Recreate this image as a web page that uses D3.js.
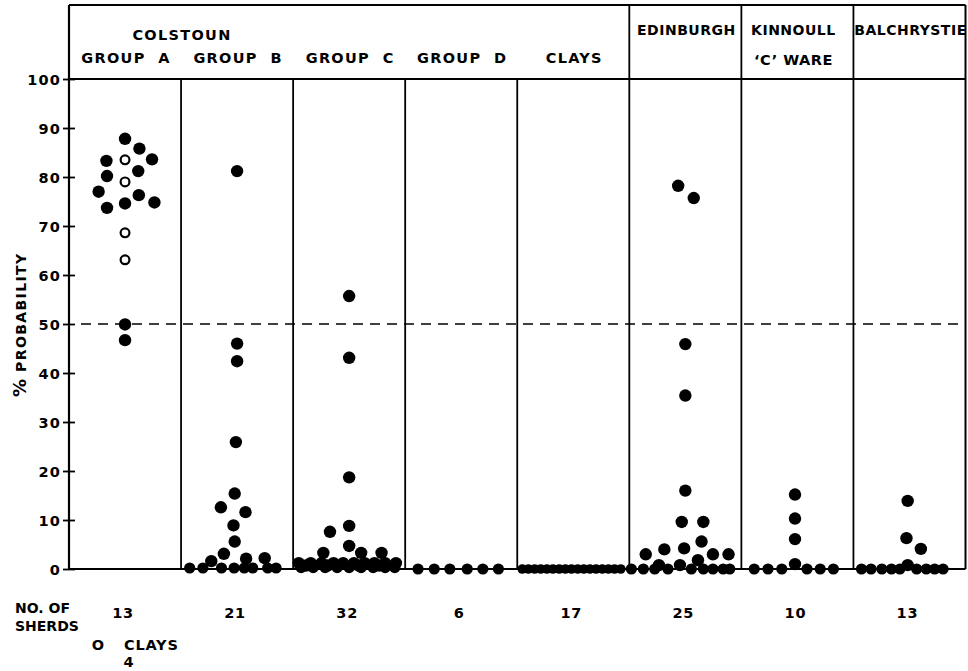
<!DOCTYPE html>
<html>
<head>
<meta charset="utf-8">
<script src="https://cdn.jsdelivr.net/npm/d3@7"></script>
<style>
  html, body { margin: 0; padding: 0; background: #fff; }
  svg { display: block; }
  text { font-family: "DejaVu Sans", "Liberation Sans", sans-serif; font-weight: bold; fill: #000; }
</style>
</head>
<body>
<svg id="chart" width="968" height="671"></svg>
<script>
// ---------------- DATA ----------------
const panels = ["GROUP A", "GROUP B", "GROUP C", "GROUP D", "CLAYS", "EDINBURGH", "KINNOULL", "BALCHRYSTIE"];
const headerLine1 = ["", "", "", "", "", "EDINBURGH", "KINNOULL", "BALCHRYSTIE"];
const headerLine2 = ["GROUP  A", "GROUP  B", "GROUP  C", "GROUP  D", "CLAYS", "", "\u2018C\u2019 WARE", ""];
const colstounTitle = "COLSTOUN";
const sherdCounts = ["13", "21", "32", "6", "17", "25", "10", "13"];
const yTicks = [0, 10, 20, 30, 40, 50, 60, 70, 80, 90, 100];
const threshold = 50;

// values (% probability) and dot-plot column (stacking slot) per point
const groupA      = [87.8, 85.8, 83.6, 83.3, 81.2, 80.2, 77.0, 76.3, 74.8, 74.6, 73.7, 49.9, 46.7];
const groupACol   = [0, 1.2, 2.25, -1.55, 1.1, -1.5, -2.2, 1.15, 2.45, 0, -1.5, 0, 0];
const groupAClays    = [83.5, 79.0, 68.6, 63.1];
const groupAClaysCol = [0, 0, 0, 0];

const groupB    = [81.2, 46.0, 42.4, 25.9, 15.4, 12.6, 11.6, 8.9, 5.6, 3.1, 1.6, 2.1, 2.2, 0.2, 0.2, 0.2, 0.2, 0.2, 0.2, 0.2, 0.2];
const groupBCol = [0, 0, 0, -0.1, -0.2, -1.35, 0.7, -0.3, -0.2, -1.1, -2.15, 0.75, 2.3, -3.95, -2.85, -1.3, -0.25, 0.6, 1.3, 2.55, 3.25];

const groupC    = [55.7, 43.1, 18.7, 8.8, 7.6, 4.7, 3.3, 3.3, 3.3,
                   1.2, 1.2, 1.2, 1.2, 1.2, 1.2, 1.2, 1.2, 1.2, 1.2,
                   0.3, 0.3, 0.3, 0.3, 0.3, 0.3, 0.3, 0.3, 0.3,
                   0.7, 0.7, 0.7, 0.7];
const groupCCol = [0, 0, 0, 0, -1.6, 0, -2.15, 1.0, 2.7,
                   -4.2, -3.2, -2.3, -1.3, -0.5, 0.4, 1.3, 2.1, 3.0, 3.9,
                   -4.0, -3.0, -2.0, -1.0, 0, 1.0, 2.0, 3.0, 3.8,
                   -3.6, -1.8, 0.8, 2.5];

const groupD    = [0, 0, 0, 0, 0, 0];
const groupDCol = [-3.6, -2.25, -0.95, 0.5, 1.8, 3.1];

const clays    = [0, 0, 0, 0, 0, 0, 0, 0, 0, 0, 0, 0, 0, 0, 0, 0, 0];
const claysCol = [-4.25, -3.74, -3.22, -2.71, -2.2, -1.69, -1.17, -0.66, -0.15, 0.37, 0.88, 1.39, 1.9, 2.42, 2.93, 3.44, 3.96];

const edinburgh    = [78.2, 75.7, 45.9, 35.4, 16.0, 9.6, 9.6, 5.6, 4.2, 4.0, 3.0, 3.0, 3.0, 1.8, 0.8, 0.8, 0, 0, 0, 0, 0, 0, 0, 0, 0];
const edinburghCol = [-0.6, 0.7, 0, 0, 0, -0.3, 1.5, 1.35, -0.1, -1.75, -3.3, 2.3, 3.6, 1.05, -2.2, -0.45, -4.5, -3.5, -2.55, -1.45, 0.5, 1.5, 2.3, 3.15, 3.7];

const kinnoull    = [15.2, 10.3, 6.1, 1.0, 0, 0, 0, 0, 0, 0];
const kinnoullCol = [-0.2, -0.2, -0.2, -0.2, -3.6, -2.45, -1.3, 0.8, 1.9, 3.0];

const balchrystie    = [13.9, 6.3, 4.1, 0.8, 0, 0, 0, 0, 0, 0, 0, 0, 0];
const balchrystieCol = [-0.15, -0.25, 0.95, -0.15, -4, -3.2, -2.3, -1.5, -0.8, 0.6, 1.4, 2.1, 2.8];

// ---------------- BUILD TABLE ----------------
const seriesValues = [groupA, groupB, groupC, groupD, clays, edinburgh, kinnoull, balchrystie];
const seriesCols   = [groupACol, groupBCol, groupCCol, groupDCol, claysCol, edinburghCol, kinnoullCol, balchrystieCol];
const points = [];
seriesValues.forEach((vals, i) => vals.forEach((v, j) => points.push({panel: panels[i], value: v, col: seriesCols[i][j], open: false})));
groupAClays.forEach((v, j) => points.push({panel: panels[0], value: v, col: groupAClaysCol[j], open: true}));

// ---------------- LAYOUT ----------------
(function draw() {
const svg = d3.select("#chart");
const L = 69, R = 965.5, T = 5, B = 569, H = 79;

const x = d3.scaleBand().domain(panels).range([L, R]).padding(0);
const y = d3.scaleLinear().domain([0, 100]).range([B, H]);
const colScale = d3.scaleLinear().domain([-1, 1]).range([-12, 12]);
const cx = p => x(p) + x.bandwidth() / 2;

const frame = svg.append("g").attr("stroke", "#000").attr("fill", "none");
frame.append("line").attr("x1", L).attr("x2", R).attr("y1", T).attr("y2", T).attr("stroke-width", 2);
frame.append("line").attr("x1", R).attr("x2", R).attr("y1", T).attr("y2", B).attr("stroke-width", 2);
frame.append("line").attr("x1", L).attr("x2", R).attr("y1", y(100)).attr("y2", y(100)).attr("stroke-width", 2);
frame.append("line").attr("x1", L).attr("x2", R).attr("y1", y(0)).attr("y2", y(0)).attr("stroke-width", 2);
frame.append("line").attr("x1", L).attr("x2", L).attr("y1", T).attr("y2", B).attr("stroke-width", 2.2);
panels.slice(1).forEach((p, k) => {
  const i = k + 1;
  frame.append("line")
    .attr("x1", x(p)).attr("x2", x(p))
    .attr("y1", i >= 5 ? T : y(100)).attr("y2", B)
    .attr("stroke-width", 1.8);
});

// threshold dashed line
svg.append("line")
  .attr("x1", L + 12).attr("x2", R)
  .attr("y1", y(threshold)).attr("y2", y(threshold))
  .attr("stroke", "#000").attr("stroke-width", 1.7)
  .attr("stroke-dasharray", "10,7");

// y axis
const yAxis = d3.axisLeft(y).tickValues(yTicks).tickSize(6).tickPadding(3).tickFormat(d3.format("d"));
const ag = svg.append("g").attr("transform", `translate(${L},0)`).call(yAxis);
ag.select(".domain").remove();
ag.selectAll(".tick line").attr("x1", 6).attr("x2", -6).attr("stroke", "#000").attr("stroke-width", 1.8);
ag.selectAll(".tick text")
  .attr("font-size", 14.5).attr("font-family", "DejaVu Sans, sans-serif").attr("font-weight", "bold")
  .attr("letter-spacing", 1.2).attr("dy", "0.36em").attr("x", -8);

// y label
const yl = svg.append("text")
  .attr("transform", `translate(26,397) rotate(-90)`)
  .attr("text-anchor", "start");
yl.append("tspan").attr("font-size", 18).text("%");
yl.append("tspan").attr("dx", 7).attr("font-size", 14).attr("letter-spacing", 1.4).text("PROBABILITY");

// headers
svg.append("text").attr("x", 182).attr("y", 40).attr("text-anchor", "middle")
  .attr("font-size", 14.5).attr("letter-spacing", 1.3).text(colstounTitle);
panels.forEach((p, i) => {
  if (headerLine1[i]) {
    svg.append("text").attr("x", cx(p) + (i === 6 ? -4 : 1)).attr("y", 35).attr("text-anchor", "middle")
      .attr("font-size", 14).attr("letter-spacing", 0.5).text(headerLine1[i]);
  }
  if (headerLine2[i]) {
    svg.append("text").attr("x", cx(p) + (i === 6 ? -4 : 1)).attr("y", i === 6 ? 65 : 63).attr("text-anchor", "middle")
      .attr("font-size", 14.5).attr("letter-spacing", i < 5 ? 1.3 : 0.5)
      .style("white-space", "pre").text(headerLine2[i]);
  }
});

// points
const dots = svg.append("g");
dots.selectAll("circle.filled")
  .data(points.filter(d => !d.open))
  .join("circle")
  .attr("class", "filled")
  .attr("cx", d => cx(d.panel) + colScale(d.col))
  .attr("cy", d => y(d.value))
  .attr("r", d => d.panel === "CLAYS" ? 4.8 : (d.value < 0.5 ? 5.6 : 6.2))
  .attr("fill", "#000");
dots.selectAll("circle.open")
  .data(points.filter(d => d.open))
  .join("circle")
  .attr("class", "open")
  .attr("cx", d => cx(d.panel) + colScale(d.col))
  .attr("cy", d => y(d.value))
  .attr("r", 4.4)
  .attr("fill", "#fff").attr("stroke", "#000").attr("stroke-width", 2.2);

// bottom annotations
svg.append("text").attr("x", 15).attr("y", 613).attr("font-size", 14).text("NO. OF");
svg.append("text").attr("x", 15).attr("y", 631).attr("font-size", 14).text("SHERDS");
panels.forEach((p, i) => {
  svg.append("text").attr("x", cx(p) - 2).attr("y", 618).attr("text-anchor", "middle")
    .attr("font-size", 14.5).attr("letter-spacing", 0.8).text(sherdCounts[i]);
});
svg.append("text").attr("x", 98).attr("y", 650).attr("text-anchor", "middle").attr("font-size", 14.5).text("O");
svg.append("text").attr("x", 124).attr("y", 650).attr("font-size", 14.5).attr("letter-spacing", 0.8).text("CLAYS");
svg.append("text").attr("x", 128.5).attr("y", 667).attr("text-anchor", "middle").attr("font-size", 14.5).text(String(groupAClays.length));
})();
</script>
</body>
</html>
